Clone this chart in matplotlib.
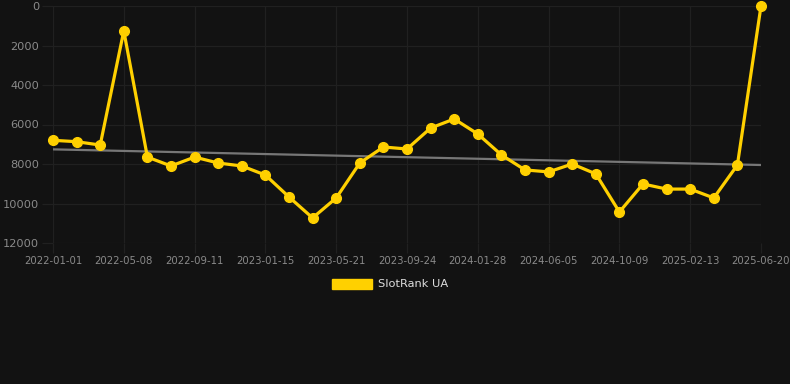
import matplotlib
matplotlib.use("Agg")
import matplotlib.pyplot as plt
from matplotlib.patches import Patch
import numpy as np

tick_labels = ["2022-01-01", "2022-05-08", "2022-09-11", "2023-01-15", "2023-05-21",
               "2023-09-24", "2024-01-28", "2024-06-05", "2024-10-09", "2025-02-13",
               "2025-06-20"]
rank_values = [6800, 6870, 7040, 1260, 7650, 8100, 7650, 7950, 8100, 8560,
               9670, 10730, 9720, 7950, 7140, 7240, 6180, 5720, 6480, 7540,
               8300, 8400, 8000, 8500, 10430, 9010, 9270, 9270, 9720, 8050, 0]
series_name = "SlotRank UA"

BG = "#121212"
GOLD = "#FFD000"
GRID = "#202020"
TICK = "#8a8a8a"

fig = plt.figure(figsize=(7.9, 3.84), dpi=100, facecolor=BG)
ax = fig.add_axes([53/790, 1-243/384, (761-53)/790, (243-6)/384])
ax.set_facecolor(BG)

x = np.arange(len(rank_values))
y = np.array(rank_values, dtype=float)

# trend line (linear fit)
coef = np.polyfit(x, y, 1)
ax.plot(x, np.polyval(coef, x), color="#777777", lw=1.6, zorder=2)

ax.plot(x, y, color=GOLD, lw=2.3, marker="o", ms=7.0, markerfacecolor=GOLD,
        markeredgecolor=GOLD, zorder=3, clip_on=False)

ax.set_xlim(0, len(rank_values) - 1)
ax.set_ylim(12000, 0)
ax.set_yticks(np.arange(0, 12001, 2000))
ax.set_xticks(x[::3])
ax.set_xticklabels(tick_labels)

ax.grid(True, color=GRID, lw=0.9)
for s in ax.spines.values():
    s.set_visible(False)
ax.tick_params(axis="x", colors=GRID, length=7, width=0.9, labelcolor=TICK,
               labelsize=7.3, pad=2)
ax.tick_params(axis="y", colors=GRID, length=8, width=0.9, labelcolor=TICK,
               labelsize=8.2, pad=2)

fig.legend(handles=[Patch(facecolor=GOLD, edgecolor=GOLD, label=series_name)],
           loc="center", bbox_to_anchor=(0.5 - 5/790, 1-284/384), frameon=False,
           fontsize=8.2, labelcolor="#dddddd", handlelength=3.5, handleheight=1.0,
           handletextpad=0.5)

fig.savefig("out.png", dpi=100, facecolor=BG)
